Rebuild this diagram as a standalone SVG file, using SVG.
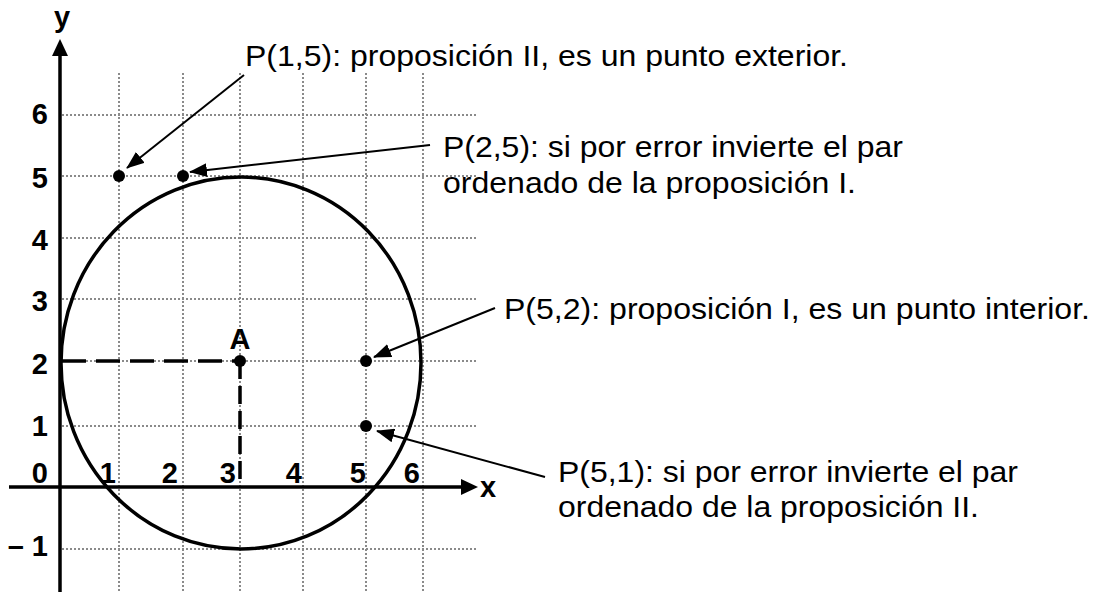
<svg xmlns="http://www.w3.org/2000/svg" width="1094" height="592" viewBox="0 0 1094 592">
<defs>
<style>
.grid{stroke:#8a8a8a;stroke-width:2;stroke-dasharray:2 2;fill:none}
.axis{stroke:#000;stroke-width:3.5;fill:none}
.lbl{font-family:"Liberation Sans",Arial,sans-serif;font-weight:bold;font-size:29px;fill:#000}
.txt{font-family:"Liberation Sans",Arial,sans-serif;font-size:30px;fill:#000}
.lead{stroke:#000;stroke-width:2;fill:none;marker-end:url(#ah)}
.pt{fill:#000}
</style>
<marker id="ah" markerUnits="userSpaceOnUse" markerWidth="18" markerHeight="14" refX="17" refY="7" orient="auto">
<path d="M0,0 L18,7 L0,14 Z" fill="#000"/>
</marker>
</defs>
<rect width="1094" height="592" fill="#fff"/>
<g id="grid">
<line class="grid" x1="119" y1="73" x2="119" y2="592"/>
<line class="grid" x1="183" y1="73" x2="183" y2="592"/>
<line class="grid" x1="240" y1="73" x2="240" y2="592"/>
<line class="grid" x1="303" y1="73" x2="303" y2="592"/>
<line class="grid" x1="366" y1="73" x2="366" y2="592"/>
<line class="grid" x1="423" y1="73" x2="423" y2="592"/>
<line class="grid" x1="62" y1="115" x2="476" y2="115"/>
<line class="grid" x1="62" y1="176" x2="476" y2="176"/>
<line class="grid" x1="62" y1="238" x2="476" y2="238"/>
<line class="grid" x1="62" y1="299" x2="476" y2="299"/>
<line class="grid" x1="62" y1="361" x2="476" y2="361"/>
<line class="grid" x1="62" y1="426" x2="476" y2="426"/>
<line class="grid" x1="62" y1="549" x2="476" y2="549"/>
</g>
<g id="axes">
<line class="axis" x1="60" y1="592" x2="60" y2="52"/>
<path d="M52,56 L60,39 L68,56 Z" fill="#000"/>
<line class="axis" x1="9" y1="487" x2="464" y2="487"/>
<path d="M461,479 L478,487 L461,495 Z" fill="#000"/>
<text class="lbl" x="62" y="27" text-anchor="middle">y</text>
<text class="lbl" x="480" y="497">x</text>
</g>
<g id="y-labels" class="lbl" text-anchor="end">
<text x="48" y="124">6</text>
<text x="48" y="188">5</text>
<text x="48" y="250">4</text>
<text x="48" y="311">3</text>
<text x="48" y="374">2</text>
<text x="48" y="436">1</text>
<text x="48" y="483">0</text>
<text x="48" y="556">– 1</text>
</g>
<g id="x-labels" class="lbl" text-anchor="end">
<text x="116" y="483">1</text>
<text x="178" y="483">2</text>
<text x="236" y="483">3</text>
<text x="302" y="483">4</text>
<text x="366" y="483">5</text>
<text x="420" y="483">6</text>
</g>
<g id="circle">
<ellipse cx="241" cy="363" rx="180" ry="186" fill="none" stroke="#000" stroke-width="3.5"/>
</g>
<g id="center-A">
<line x1="62" y1="361" x2="240" y2="361" stroke="#000" stroke-width="3.5" stroke-dasharray="24 10"/>
<line x1="240" y1="361" x2="240" y2="487" stroke="#000" stroke-width="3.5" stroke-dasharray="18 7"/>
<circle class="pt" cx="240" cy="361" r="6"/>
<text class="lbl" x="240" y="349" text-anchor="middle">A</text>
</g>
<g id="points">
<circle class="pt" cx="119" cy="176" r="6"/>
<circle class="pt" cx="183" cy="176" r="6"/>
<circle class="pt" cx="366" cy="361" r="6"/>
<circle class="pt" cx="366" cy="426" r="6"/>
</g>
<g id="connectors">
<line class="lead" x1="244" y1="75" x2="127" y2="168"/>
<line class="lead" x1="430" y1="145" x2="190" y2="172"/>
<line class="lead" x1="495" y1="308" x2="374" y2="357"/>
<line class="lead" x1="545" y1="477" x2="377" y2="431"/>
</g>
<g id="label-P15">
<text class="txt" x="245" y="66" textLength="603" lengthAdjust="spacingAndGlyphs">P(1,5): proposición II, es un punto exterior.</text>
</g>
<g id="label-P25">
<text class="txt" x="443" y="157" textLength="460" lengthAdjust="spacingAndGlyphs">P(2,5): si por error invierte el par</text>
<text class="txt" x="443" y="193" textLength="413" lengthAdjust="spacingAndGlyphs">ordenado de la proposición I.</text>
</g>
<g id="label-P52">
<text class="txt" x="504" y="319" textLength="586" lengthAdjust="spacingAndGlyphs">P(5,2): proposición I, es un punto interior.</text>
</g>
<g id="label-P51">
<text class="txt" x="558" y="482" textLength="460" lengthAdjust="spacingAndGlyphs">P(5,1): si por error invierte el par</text>
<text class="txt" x="558" y="517" textLength="421" lengthAdjust="spacingAndGlyphs">ordenado de la proposición II.</text>
</g>
</svg>
